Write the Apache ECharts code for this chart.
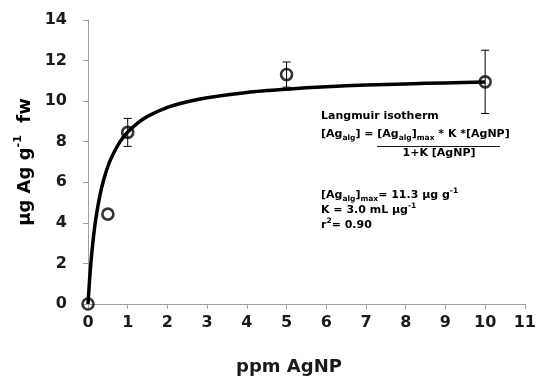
<!DOCTYPE html>
<html>
<head>
<meta charset="utf-8">
<script src="https://cdn.jsdelivr.net/npm/echarts@6/dist/echarts.min.js"></script>
<style>html,body{margin:0;padding:0;background:#fff}#c{width:539px;height:378px}</style>
</head>
<body>
<div id="c"></div>
<script>
// measured data points
var pointX = [0, 0.5, 1, 5, 10];
var pointY = [0, 4.43, 8.46, 11.31, 10.95];
var pointErr = [0, 0, 0.69, 0.62, 1.56];
// fitted Langmuir curve
var curveX = [0, 0.05, 0.1, 0.15, 0.2, 0.3, 0.4, 0.5, 0.6, 0.8, 1, 1.25, 1.5, 2, 2.5, 3, 4, 5, 6, 7, 8, 9, 10];
var curveY = [0, 1.47, 2.61, 3.51, 4.24, 5.35, 6.16, 6.78, 7.26, 7.98, 8.48, 8.92, 9.25, 9.69, 9.97, 10.17, 10.43, 10.59, 10.71, 10.79, 10.85, 10.90, 10.94];
// axis ticks
var xTicks = [0, 1, 2, 3, 4, 5, 6, 7, 8, 9, 10, 11];
var yTicks = [0, 2, 4, 6, 8, 10, 12, 14];

var FONT = 'DejaVu Sans';
var chart = echarts.init(document.getElementById('c'), null, {renderer: 'canvas'});

var pts = pointX.map(function (x, i) { return [x, pointY[i], pointErr[i]]; });
var curve = curveX.map(function (x, i) { return [x, curveY[i]]; });

var TC = '#1a1a1a';
var rich = {
  n: {fontFamily: FONT, fontWeight: 'bold', fontSize: 11, color: TC, lineHeight: 16},
  sb: {fontFamily: FONT, fontWeight: 'bold', fontSize: 7.5, color: TC, lineHeight: 8, verticalAlign: 'bottom'},
  sp: {fontFamily: FONT, fontWeight: 'bold', fontSize: 7.5, color: TC, lineHeight: 8, verticalAlign: 'top'}
};

var option = {
  animation: false,
  backgroundColor: '#fff',
  grid: {left: 88, right: 11, top: 20, bottom: 74, containLabel: false},
  xAxis: {
    type: 'value', min: 0, max: 11, interval: 1,
    axisLine: {show: true, lineStyle: {color: '#a0a0a0', width: 1}},
    axisTick: {show: true, length: 5, lineStyle: {color: '#a0a0a0'}},
    splitLine: {show: false},
    axisLabel: {margin: 11, fontFamily: FONT, fontWeight: 'bold', fontSize: 16, color: TC,
      formatter: function (v) { return xTicks.indexOf(v) >= 0 ? String(v) : ''; }}
  },
  yAxis: {
    type: 'value', min: 0, max: 14, interval: 2,
    axisLine: {show: true, lineStyle: {color: '#a0a0a0', width: 1}},
    axisTick: {show: true, length: 5, lineStyle: {color: '#a0a0a0'}},
    splitLine: {show: false},
    axisLabel: {margin: 21, fontFamily: FONT, fontWeight: 'bold', fontSize: 16, color: TC,
      formatter: function (v) { return yTicks.indexOf(v) >= 0 ? String(v) : ''; }}
  },
  series: [
    {
      type: 'line', data: curve, smooth: 0.3, symbol: 'none', z: 2,
      lineStyle: {color: '#000', width: 3.5}
    },
    {
      type: 'custom', z: 3,
      renderItem: function (params, api) {
        var e = api.value(2);
        if (!e) return null;
        var x = api.value(0), y = api.value(1);
        var top = api.coord([x, y + e]);
        var bot = api.coord([x, y - e]);
        var w = 4;
        var st = {stroke: '#000', lineWidth: 1};
        return {type: 'group', children: [
          {type: 'line', shape: {x1: top[0], y1: top[1], x2: bot[0], y2: bot[1]}, style: st},
          {type: 'line', shape: {x1: top[0] - w, y1: top[1], x2: top[0] + w, y2: top[1]}, style: st},
          {type: 'line', shape: {x1: bot[0] - w, y1: bot[1], x2: bot[0] + w, y2: bot[1]}, style: st}
        ]};
      },
      data: pts
    },
    {
      type: 'scatter', data: pts, symbol: 'circle', symbolSize: 11, z: 4,
      itemStyle: {color: 'rgba(255,255,255,0)', borderColor: '#000', borderWidth: 2.6}
    }
  ],
  graphic: [
    {type: 'text', x: 25, y: 162, rotation: Math.PI / 2,
      style: {text: '{a|µg Ag g}{s|-1}{a|  fw}', align: 'center', verticalAlign: 'middle',
        rich: {
          a: {fontFamily: FONT, fontWeight: 'bold', fontSize: 18, color: TC, lineHeight: 24},
          s: {fontFamily: FONT, fontWeight: 'bold', fontSize: 11, color: TC, lineHeight: 12, verticalAlign: 'top'}
        }}},
    {type: 'text', x: 289, y: 367,
      style: {text: 'ppm AgNP', align: 'center', verticalAlign: 'middle',
        fontFamily: FONT, fontWeight: 'bold', fontSize: 18, fill: TC}},
    {type: 'text', x: 321, y: 116,
      style: {text: '{n|Langmuir isotherm}', align: 'left', verticalAlign: 'middle', rich: rich}},
    {type: 'text', x: 321, y: 134,
      style: {text: '{n|[Ag}{sb|alg}{n|] = [Ag}{sb|alg}{n|]}{sb|max}{n| * K *[AgNP]}', align: 'left', verticalAlign: 'middle', rich: rich}},
    {type: 'line', shape: {x1: 377, y1: 146.5, x2: 500, y2: 146.5}, style: {stroke: TC, lineWidth: 1.2}},
    {type: 'text', x: 439, y: 153,
      style: {text: '{n|1+K [AgNP]}', align: 'center', verticalAlign: 'middle', rich: rich}},
    {type: 'text', x: 321, y: 195,
      style: {text: '{n|[Ag}{sb|alg}{n|]}{sb|max}{n|= 11.3 µg g}{sp|-1}', align: 'left', verticalAlign: 'middle', rich: rich}},
    {type: 'text', x: 321, y: 210,
      style: {text: '{n|K = 3.0 mL µg}{sp|-1}', align: 'left', verticalAlign: 'middle', rich: rich}},
    {type: 'text', x: 321, y: 225,
      style: {text: '{n|r}{sp|2}{n|= 0.90}', align: 'left', verticalAlign: 'middle', rich: rich}}
  ]
};
chart.setOption(option);
</script>
</body>
</html>
